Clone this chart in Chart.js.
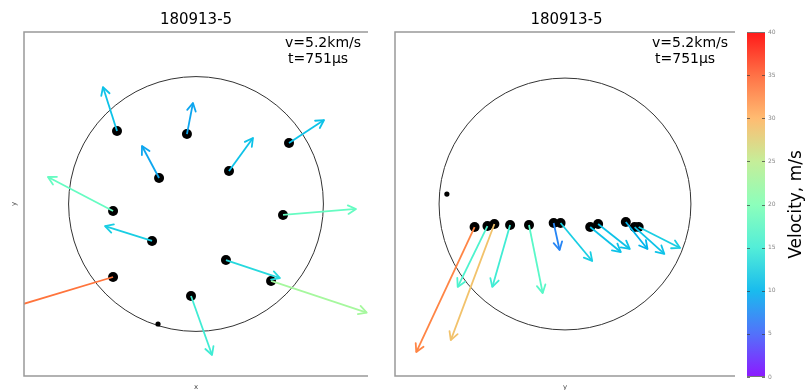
<!DOCTYPE html>
<html>
<head>
<meta charset="utf-8">
<script src="https://cdn.jsdelivr.net/npm/chart.js@4.4.0/dist/chart.umd.min.js"></script>
<style>
    body { margin: 0; background: #fff; width: 811px; height: 390px; overflow: hidden; position: relative; }
    .painel { position: absolute; top: 0; height: 390px; }
</style>
</head>
<body>
<div class="painel" style="left:0;width:390px"><canvas id="vistaXY"></canvas></div>
<div class="painel" style="left:390px;width:350px"><canvas id="vistaZY"></canvas></div>
<div class="painel" style="left:740px;width:71px"><canvas id="escala"></canvas></div>
<script>
// Dados do gráfico
const titulo = '180913-5';
const textoV = 'v=5.2km/s';
const textoT = 't=751μs';

// Vista x-y (esquerda): posição dos fragmentos e ponta do vetor
const xyDotX = [-6.20, -0.71, 7.30, -2.90, 2.59, -6.51, -3.45, 6.83, -6.51, 2.35, 5.89, -0.39];
const xyDotY = [5.73, 5.49, 4.79, 2.04, 2.59, -0.55, -2.90, -0.86, -5.73, -4.40, -6.04, -7.22];
const xyTipX = [-7.30, -0.24, 10.05, -4.24, 4.47, -11.62, -7.14, 12.56, -16.17, 6.59, 13.40, 1.26];
const xyTipY = [9.18, 7.93, 6.59, 4.55, 5.18, 2.12, -1.73, -0.39, -8.63, -5.81, -8.52, -11.85];
const xyVel = [11, 9, 11, 9, 11, 18, 12, 18, 34, 13, 23, 15];
const xySmallX = [-2.98];
const xySmallY = [-9.42];

// Vista z-y (direita)
const zyDotX = [-7.18, -6.16, -5.61, -4.36, -2.86, -0.90, -0.35, 2.00, 2.63, 4.83, 5.53, 5.85];
const zyDotY = [-1.81, -1.73, -1.57, -1.65, -1.65, -1.49, -1.49, -1.81, -1.57, -1.41, -1.81, -1.81];
const zyTipX = [-11.81, -8.52, -9.07, -5.77, -1.77, -0.43, 2.16, 4.43, 5.14, 6.55, 7.89, 9.14];
const zyTipY = [-11.62, -6.51, -10.68, -6.51, -6.99, -3.61, -4.47, -3.77, -3.53, -3.53, -3.92, -3.45];
const zyVel = [33, 16, 29, 15, 17, 7, 12, 11, 11, 10, 11, 12];
const zySmallX = [-9.38];
const zySmallY = [0.78];

// Contorno (círculo) e limites dos eixos
const raioCirculo = 10;
const limiteEixo = 13.5;

// Escala de cores
const velMin = 0;
const velMax = 40;
const velTicks = [0, 5, 10, 15, 20, 25, 30, 35, 40];

Chart.defaults.font.family = '"DejaVu Sans", sans-serif';
Chart.defaults.animation = false;

// Mapa de cores "rainbow"
function rainbow(v, a) {
    const t = Math.min(Math.max((v - velMin) / (velMax - velMin), 0), 1);
    const r = Math.min(1, Math.abs(2 * t - 0.5));
    const g = Math.sin(Math.PI * t);
    const b = Math.cos(Math.PI * t / 2);
    return `rgba(${Math.round(r * 255)}, ${Math.round(g * 255)}, ${Math.round(b * 255)}, ${a})`;
}

// Círculo, moldura e textos do painel
const moldura = {
    id: 'moldura',
    beforeDatasetsDraw(chart) {
        const ctx = chart.ctx;
        const xs = chart.scales.x, ys = chart.scales.y;
        const cx = xs.getPixelForValue(0), cy = ys.getPixelForValue(0);
        const r = xs.getPixelForValue(raioCirculo) - cx;
        ctx.save();
        ctx.strokeStyle = '#333';
        ctx.lineWidth = 1;
        ctx.beginPath();
        ctx.arc(cx, cy, r, 0, Math.PI * 2);
        ctx.stroke();
        ctx.restore();
    },
    afterDraw(chart, args, opts) {
        const ctx = chart.ctx, a = chart.chartArea;
        ctx.save();
        ctx.strokeStyle = '#999';
        ctx.lineWidth = 1.5;
        ctx.beginPath();
        ctx.moveTo(a.right, a.top);
        ctx.lineTo(a.left, a.top);
        ctx.lineTo(a.left, a.bottom);
        ctx.lineTo(a.right, a.bottom);
        ctx.stroke();

        ctx.fillStyle = '#000';
        ctx.font = '14px "DejaVu Sans"';
        ctx.textBaseline = 'middle';
        ctx.textAlign = 'left';
        ctx.fillText(textoV, a.right - 83, a.top + 11);
        ctx.fillText(textoT, a.right - 80, a.top + 27);

        ctx.fillStyle = '#444';
        ctx.font = '7px "DejaVu Sans"';
        ctx.textAlign = 'center';
        ctx.fillText(opts.eixoX, (a.left + a.right) / 2, a.bottom + 11);
        ctx.translate(a.left - 10, (a.top + a.bottom) / 2);
        ctx.rotate(-Math.PI / 2);
        ctx.fillText(opts.eixoY, 0, 0);
        ctx.restore();
    }
};

// Pontas das setas
const setas = {
    id: 'setas',
    afterDatasetsDraw(chart) {
        const ctx = chart.ctx, a = chart.chartArea;
        ctx.save();
        ctx.beginPath();
        ctx.rect(a.left, a.top, a.right - a.left, a.bottom - a.top);
        ctx.clip();
        chart.data.datasets.forEach((ds, i) => {
            if (!ds.seta) return;
            const pts = chart.getDatasetMeta(i).data;
            const p0 = pts[0], p1 = pts[1];
            const ang = Math.atan2(p1.y - p0.y, p1.x - p0.x);
            const len = 9, abre = 0.5;
            ctx.strokeStyle = ds.borderColor;
            ctx.lineWidth = ds.borderWidth;
            ctx.lineCap = 'round';
            ctx.lineJoin = 'round';
            ctx.beginPath();
            ctx.moveTo(p1.x - len * Math.cos(ang - abre), p1.y - len * Math.sin(ang - abre));
            ctx.lineTo(p1.x, p1.y);
            ctx.lineTo(p1.x - len * Math.cos(ang + abre), p1.y - len * Math.sin(ang + abre));
            ctx.stroke();
        });
        ctx.restore();
    }
};

function criarPainel(canvasId, dotX, dotY, tipX, tipY, vel, smallX, smallY, padding, eixoX, eixoY) {
    const datasets = [];
    dotX.forEach((x, i) => {
        datasets.push({
            data: [{x: x, y: dotY[i]}, {x: tipX[i], y: tipY[i]}],
            showLine: true,
            borderColor: rainbow(vel[i], 1),
            borderWidth: 1.8,
            pointRadius: 0,
            seta: true,
            order: 1
        });
    });
    datasets.push({
        data: dotX.map((x, i) => ({x: x, y: dotY[i]})),
        backgroundColor: '#000',
        borderWidth: 0,
        pointRadius: 5,
        order: 2
    });
    datasets.push({
        data: smallX.map((x, i) => ({x: x, y: smallY[i]})),
        backgroundColor: '#000',
        borderWidth: 0,
        pointRadius: 2.6,
        order: 2
    });

    return new Chart(document.getElementById(canvasId), {
        type: 'scatter',
        data: { datasets: datasets },
        options: {
            responsive: true,
            maintainAspectRatio: false,
            layout: { padding: padding },
            scales: {
                x: { type: 'linear', min: -limiteEixo, max: limiteEixo, display: false },
                y: { type: 'linear', min: -limiteEixo, max: limiteEixo, display: false }
            },
            plugins: {
                legend: { display: false },
                tooltip: { enabled: false },
                title: {
                    display: true,
                    text: titulo,
                    color: '#000',
                    font: { size: 15, weight: 'normal' },
                    padding: { top: 11, bottom: 3 }
                },
                moldura: { eixoX: eixoX, eixoY: eixoY }
            }
        },
        plugins: [moldura, setas]
    });
}

criarPainel('vistaXY', xyDotX, xyDotY, xyTipX, xyTipY, xyVel, xySmallX, xySmallY,
    { left: 24, right: 22, top: 0, bottom: 14 }, 'x', 'y');
criarPainel('vistaZY', zyDotX, zyDotY, zyTipX, zyTipY, zyVel, zySmallX, zySmallY,
    { left: 5, right: 2, top: 0, bottom: 14 }, 'y', 'z');

// Barra de cores
const marcasEscala = {
    id: 'marcasEscala',
    afterDatasetsDraw(chart) {
        const ctx = chart.ctx, a = chart.chartArea, ys = chart.scales.y;
        ctx.save();
        ctx.strokeStyle = 'rgba(60, 60, 60, 0.7)';
        ctx.lineWidth = 1;
        velTicks.forEach(v => {
            const y = Math.round(ys.getPixelForValue(v)) + 0.5;
            ctx.beginPath();
            ctx.moveTo(a.left, y); ctx.lineTo(a.left + 3, y);
            ctx.moveTo(a.right - 3, y); ctx.lineTo(a.right, y);
            ctx.stroke();
        });
        ctx.strokeStyle = '#777';
        ctx.beginPath();
        ctx.moveTo(a.left, a.top + 0.5); ctx.lineTo(a.right, a.top + 0.5);
        ctx.moveTo(a.left, a.bottom - 0.5); ctx.lineTo(a.right, a.bottom - 0.5);
        ctx.stroke();

        ctx.fillStyle = '#000';
        ctx.font = '17px "DejaVu Sans"';
        ctx.textAlign = 'center';
        ctx.textBaseline = 'middle';
        ctx.translate(57, (a.top + a.bottom) / 2);
        ctx.rotate(-Math.PI / 2);
        ctx.fillText('Velocity, m/s', 0, 0);
        ctx.restore();
    }
};

new Chart(document.getElementById('escala'), {
    type: 'bar',
    data: {
        labels: [''],
        datasets: [{
            data: [[velMin, velMax]],
            barPercentage: 1,
            categoryPercentage: 1,
            borderWidth: 0,
            backgroundColor: function(context) {
                const chart = context.chart;
                if (!chart.chartArea) return null;
                const ys = chart.scales.y;
                const g = chart.ctx.createLinearGradient(0, ys.getPixelForValue(velMin), 0, ys.getPixelForValue(velMax));
                velTicks.forEach(v => g.addColorStop((v - velMin) / (velMax - velMin), rainbow(v, 0.9)));
                return g;
            }
        }]
    },
    options: {
        responsive: true,
        maintainAspectRatio: false,
        layout: { padding: { left: 7, right: 28, top: 32, bottom: 13 } },
        scales: {
            x: { display: false },
            y: {
                position: 'right',
                min: velMin,
                max: velMax,
                ticks: { stepSize: 5, color: '#888', font: { size: 6 }, padding: 3 },
                grid: { display: false, drawTicks: false },
                border: { display: false },
                afterFit: function(scale) { scale.width = 18; }
            }
        },
        plugins: {
            legend: { display: false },
            tooltip: { enabled: false }
        }
    },
    plugins: [marcasEscala]
});
</script>
</body>
</html>
